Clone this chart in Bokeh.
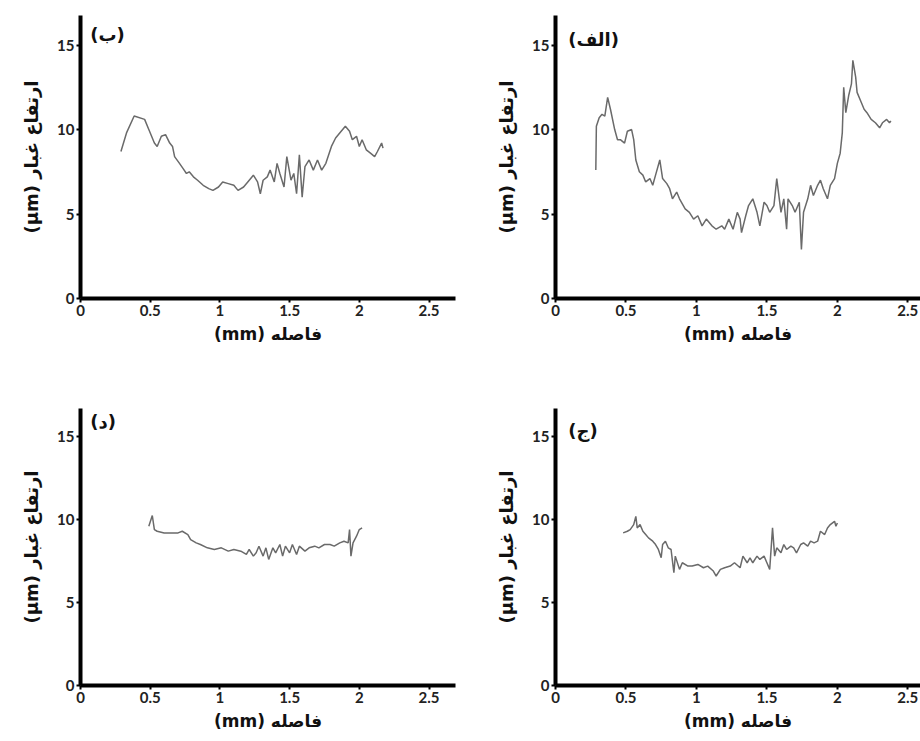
from bokeh.plotting import figure
from bokeh.layouts import row, column
from bokeh.models import FixedTicker, Label
from bokeh.embed import file_html
from bokeh.resources import INLINE

# ---------------- data ----------------
# panel (ب) top-left
x_b = [0.29, 0.33, 0.385, 0.46, 0.49, 0.53, 0.55, 0.58, 0.61, 0.64, 0.66, 0.675, 0.71, 0.735, 0.76, 0.78,
       0.81, 0.84, 0.88, 0.92, 0.95, 0.99, 1.02, 1.06, 1.10, 1.13, 1.17, 1.20, 1.24, 1.27, 1.29, 1.31,
       1.34, 1.36, 1.39, 1.41, 1.43, 1.46, 1.48, 1.51, 1.53, 1.55, 1.57, 1.59, 1.61, 1.64, 1.67, 1.70,
       1.73, 1.76, 1.80, 1.83, 1.87, 1.90, 1.93, 1.95, 1.98, 2.00, 2.02, 2.05, 2.08, 2.11, 2.13, 2.16, 2.17]
y_b = [8.7, 9.8, 10.8, 10.6, 10.0, 9.2, 9.0, 9.6, 9.7, 9.2, 9.0, 8.4, 8.0, 7.7, 7.4, 7.5,
       7.2, 7.0, 6.7, 6.5, 6.4, 6.6, 6.9, 6.8, 6.7, 6.4, 6.6, 6.9, 7.3, 6.9, 6.2, 7.0,
       7.2, 7.6, 6.9, 8.0, 7.4, 6.6, 8.4, 7.0, 7.4, 6.2, 8.5, 6.0, 7.8, 8.2, 7.6, 8.2,
       7.6, 8.0, 9.0, 9.5, 9.9, 10.2, 9.9, 9.4, 9.6, 9.0, 9.4, 8.8, 8.6, 8.4, 8.7, 9.2, 8.9]

# panel (الف) top-right
x_a = [0.286, 0.29, 0.31, 0.33, 0.35, 0.37, 0.39, 0.42, 0.44, 0.46, 0.49, 0.51, 0.54, 0.555, 0.57, 0.595,
       0.62, 0.64, 0.67, 0.69, 0.71, 0.74, 0.76, 0.79, 0.81, 0.83, 0.86, 0.88, 0.92, 0.95, 0.98, 1.01,
       1.04, 1.07, 1.11, 1.14, 1.18, 1.20, 1.23, 1.26, 1.29, 1.31, 1.32, 1.35, 1.37, 1.40, 1.43, 1.45,
       1.48, 1.50, 1.52, 1.55, 1.57, 1.60, 1.62, 1.64, 1.65, 1.68, 1.70, 1.73, 1.745, 1.76, 1.79, 1.81,
       1.83, 1.86, 1.88, 1.90, 1.93, 1.95, 1.98, 2.00, 2.02, 2.035, 2.045, 2.06, 2.08, 2.10, 2.11, 2.13,
       2.14, 2.17, 2.19, 2.21, 2.24, 2.27, 2.30, 2.32, 2.35, 2.37, 2.38]
y_a = [7.6, 10.2, 10.7, 10.9, 10.8, 11.9, 11.2, 10.0, 9.4, 9.4, 9.2, 9.9, 10.0, 9.4, 8.2, 7.5,
       7.3, 6.9, 7.1, 6.7, 7.3, 8.2, 7.1, 6.8, 6.5, 5.9, 6.3, 5.9, 5.3, 5.1, 4.7, 4.9,
       4.3, 4.7, 4.3, 4.1, 4.3, 4.1, 4.7, 4.1, 5.1, 4.7, 3.9, 4.9, 5.5, 5.9, 5.1, 4.3,
       5.7, 5.5, 5.1, 5.5, 7.1, 5.1, 5.9, 4.1, 5.9, 5.5, 5.1, 5.7, 2.9, 5.1, 5.9, 6.7,
       6.1, 6.7, 7.0, 6.5, 5.9, 6.7, 7.1, 8.0, 8.6, 9.8, 12.5, 11.0, 12.0, 12.7, 14.1, 13.1,
       12.2, 11.6, 11.2, 11.0, 10.6, 10.4, 10.1, 10.4, 10.6, 10.4, 10.5]

# panel (د) bottom-left
x_d = [0.49, 0.515, 0.53, 0.55, 0.60, 0.65, 0.70, 0.73, 0.77, 0.79, 0.83, 0.86, 0.91, 0.96, 1.01, 1.06,
       1.10, 1.15, 1.19, 1.21, 1.24, 1.26, 1.28, 1.31, 1.33, 1.35, 1.38, 1.40, 1.43, 1.45, 1.47, 1.50,
       1.52, 1.55, 1.57, 1.61, 1.64, 1.68, 1.71, 1.75, 1.79, 1.82, 1.86, 1.89, 1.92, 1.93, 1.94, 1.955,
       1.98, 2.00, 2.02]
y_d = [9.6, 10.25, 9.4, 9.3, 9.2, 9.2, 9.2, 9.3, 9.1, 8.8, 8.6, 8.5, 8.3, 8.2, 8.3, 8.1,
       8.2, 8.1, 7.9, 8.2, 7.8, 8.0, 8.4, 7.8, 8.3, 7.6, 8.3, 8.0, 8.5, 7.8, 8.4, 8.0,
       8.5, 7.9, 8.4, 8.1, 8.3, 8.4, 8.3, 8.5, 8.5, 8.4, 8.6, 8.7, 8.6, 9.4, 7.8, 8.6,
       9.0, 9.4, 9.5]

# panel (ج) bottom-right
x_j = [0.48, 0.51, 0.53, 0.555, 0.57, 0.58, 0.60, 0.62, 0.64, 0.66, 0.69, 0.71, 0.73, 0.75, 0.76, 0.78,
       0.80, 0.82, 0.84, 0.85, 0.88, 0.90, 0.94, 0.97, 1.01, 1.05, 1.08, 1.12, 1.14, 1.17, 1.20, 1.24,
       1.27, 1.31, 1.33, 1.36, 1.38, 1.40, 1.43, 1.45, 1.48, 1.50, 1.52, 1.54, 1.555, 1.57, 1.60, 1.62,
       1.64, 1.67, 1.69, 1.71, 1.74, 1.76, 1.79, 1.81, 1.835, 1.86, 1.88, 1.91, 1.93, 1.95, 1.98, 1.99, 2.00]
y_j = [9.2, 9.3, 9.4, 9.7, 10.2, 9.5, 9.7, 9.3, 9.1, 8.9, 8.7, 8.5, 8.2, 7.7, 8.5, 8.7,
       8.3, 8.2, 6.8, 7.8, 7.0, 7.4, 7.2, 7.2, 7.3, 7.1, 7.2, 6.9, 6.6, 7.0, 7.1, 7.2,
       7.4, 7.1, 7.8, 7.4, 7.7, 7.4, 7.8, 7.6, 7.8, 7.4, 7.0, 9.5, 7.8, 8.3, 8.0, 8.5,
       8.2, 8.4, 8.3, 8.0, 8.5, 8.6, 8.4, 8.7, 8.6, 8.7, 9.3, 9.1, 9.5, 9.7, 9.9, 9.6, 9.8]

x_ticks = [0, 0.5, 1, 1.5, 2, 2.5]
x_tick_labels = {0: "0", 0.5: "0.5", 1: "1", 1.5: "1.5", 2: "2", 2.5: "2.5"}
y_ticks = [0, 5, 10, 15]

x_label = "(mm) فاصله"
y_label = "(µm) ارتفاع غبار"

panels = [
    ("(ب)", x_b, y_b),
    ("(الف)", x_a, y_a),
    ("(د)", x_d, y_d),
    ("(ج)", x_j, y_j),
]

TICK_FONT = "Lato"
AR_FONT = "DejaVu Sans"


def make_panel(tag, xs, ys, width, height, bl, br, bt, bb, xend, yend, tag_x, tag_y):
    p = figure(width=width, height=height, x_range=(0, xend), y_range=(0, yend),
               output_backend="svg", toolbar_location=None,
               min_border_left=bl, min_border_right=br, min_border_top=bt, min_border_bottom=bb)
    p.outline_line_color = None
    p.xgrid.visible = False
    p.ygrid.visible = False
    p.line(xs, ys, line_color="#6a6a6a", line_width=1.5)
    for ax, ticks in ((p.xaxis, x_ticks), (p.yaxis, y_ticks)):
        ax.ticker = FixedTicker(ticks=ticks)
        ax.axis_line_width = 4
        ax.axis_line_color = "black"
        ax.major_tick_line_width = 2
        ax.major_tick_line_color = "black"
        ax.major_tick_out = 4
        ax.major_tick_in = 0
        ax.minor_tick_line_color = None
        ax.major_label_text_font = TICK_FONT
        ax.major_label_text_font_style = "bold"
        ax.major_label_text_font_size = "15px"
        ax.major_label_text_color = "#222222"
        ax.axis_label_text_font = AR_FONT
        ax.axis_label_text_font_style = "bold"
        ax.axis_label_text_color = "#111111"
    p.xaxis.axis_label_text_font_size = "17px"
    p.yaxis.axis_label_text_font_size = "18px"
    p.xaxis.major_label_overrides = x_tick_labels
    p.xaxis.major_label_standoff = 2
    p.yaxis.major_label_standoff = 2
    p.xaxis.axis_label = x_label
    p.yaxis.axis_label = y_label
    p.xaxis.axis_label_standoff = 5
    p.yaxis.axis_label_standoff = 12
    p.add_layout(Label(x=tag_x, y=tag_y, text=tag, text_font=AR_FONT, text_font_style="bold",
                       text_font_size="18px", text_color="#111111",
                       text_align="left", text_baseline="middle"))
    return p


p1 = make_panel(panels[0][0], panels[0][1], panels[0][2], 460, 388, 80, 5, 15, 90, 2.69, 16.75, 0.07, 15.6)
p2 = make_panel(panels[1][0], panels[1][1], panels[1][2], 460, 388, 95, 0, 15, 90, 2.59, 16.75, 0.09, 15.3)
p3 = make_panel(panels[2][0], panels[2][1], panels[2][2], 460, 345, 80, 5, 20, 43, 2.69, 16.7, 0.07, 15.9)
p4 = make_panel(panels[3][0], panels[3][1], panels[3][2], 460, 345, 95, 0, 20, 43, 2.59, 16.7, 0.09, 15.4)

layout = column(row(p1, p2), row(p3, p4))

open("out.html", "w").write(file_html(layout, INLINE))
